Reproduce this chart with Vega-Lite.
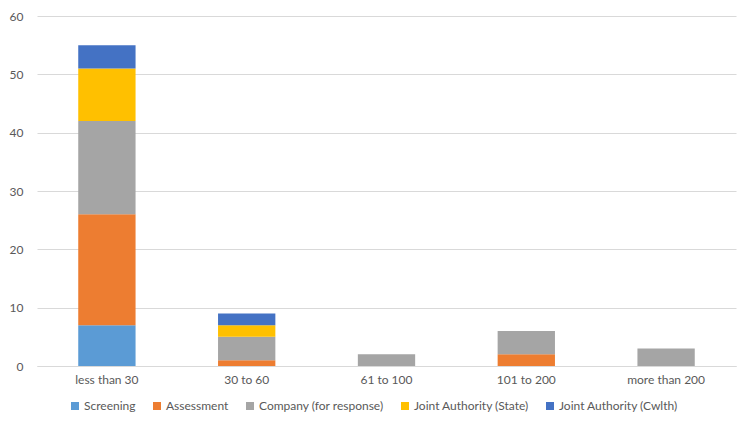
{
  "$schema": "https://vega.github.io/schema/vega-lite/v6.json",
  "autosize": {"type": "none"},
  "width": 699,
  "height": 350,
  "padding": {"left": 37, "top": 16, "right": 14, "bottom": 55},
  "background": "white",
  "config": {
    "font": "Lato",
    "view": {"stroke": null}
  },
  "data": {
    "values": [
      {"range": "less than 30", "stage": "Screening", "order": 1, "count": 7},
      {"range": "less than 30", "stage": "Assessment", "order": 2, "count": 19},
      {"range": "less than 30", "stage": "Company (for response)", "order": 3, "count": 16},
      {"range": "less than 30", "stage": "Joint Authority (State)", "order": 4, "count": 9},
      {"range": "less than 30", "stage": "Joint Authority (Cwlth)", "order": 5, "count": 4},
      {"range": "30 to 60", "stage": "Assessment", "order": 2, "count": 1},
      {"range": "30 to 60", "stage": "Company (for response)", "order": 3, "count": 4},
      {"range": "30 to 60", "stage": "Joint Authority (State)", "order": 4, "count": 2},
      {"range": "30 to 60", "stage": "Joint Authority (Cwlth)", "order": 5, "count": 2},
      {"range": "61 to 100", "stage": "Company (for response)", "order": 3, "count": 2},
      {"range": "101 to 200", "stage": "Assessment", "order": 2, "count": 2},
      {"range": "101 to 200", "stage": "Company (for response)", "order": 3, "count": 4},
      {"range": "more than 200", "stage": "Company (for response)", "order": 3, "count": 3}
    ]
  },
  "mark": {"type": "bar"},
  "encoding": {
    "x": {
      "field": "range",
      "type": "nominal",
      "sort": ["less than 30", "30 to 60", "61 to 100", "101 to 200", "more than 200"],
      "scale": {"paddingInner": 0.59, "paddingOuter": 0.295},
      "axis": {
        "title": null,
        "labelAngle": 0,
        "ticks": false,
        "domainColor": "#d9d9d9",
        "labelColor": "#595959",
        "labelFontSize": 12,
        "labelPadding": 8
      }
    },
    "y": {
      "field": "count",
      "type": "quantitative",
      "stack": "zero",
      "scale": {"domain": [0, 60]},
      "axis": {
        "title": null,
        "values": [0, 10, 20, 30, 40, 50, 60],
        "domain": false,
        "ticks": false,
        "gridColor": "#d9d9d9",
        "labelColor": "#595959",
        "labelFontSize": 12,
        "labelPadding": 14
      }
    },
    "color": {
      "field": "stage",
      "type": "nominal",
      "scale": {
        "domain": ["Screening", "Assessment", "Company (for response)", "Joint Authority (State)", "Joint Authority (Cwlth)"],
        "range": ["#5b9bd5", "#ed7d31", "#a5a5a5", "#ffc000", "#4472c4"]
      },
      "legend": {
        "title": null,
        "orient": "none",
        "legendX": 32,
        "legendY": 384,
        "direction": "horizontal",
        "columns": 5,
        "symbolType": "square",
        "symbolSize": 64,
        "symbolStrokeWidth": 0,
        "labelColor": "#595959",
        "labelFontSize": 12,
        "labelOffset": 3,
        "columnPadding": 15
      }
    },
    "order": {"field": "order", "type": "quantitative"}
  }
}
